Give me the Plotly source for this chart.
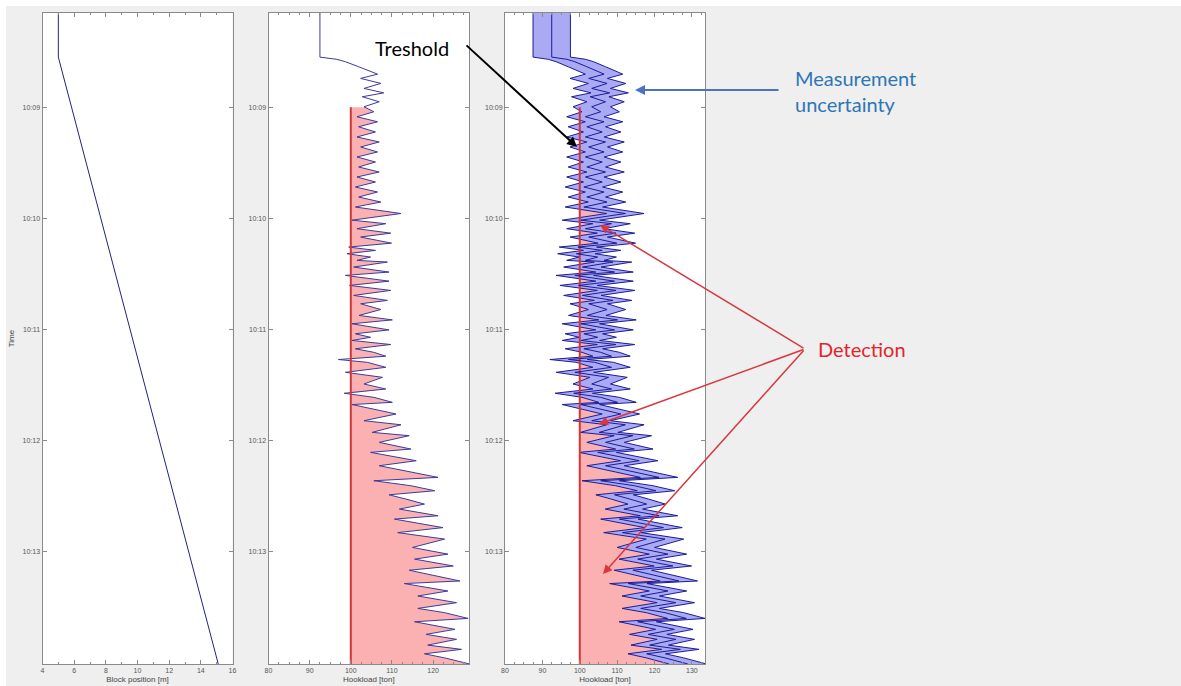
import numpy as np
import plotly.graph_objects as go

W, H = 1181, 686

# ---------------- data ----------------
# time in seconds after 10:08:00
TIME_S = [9.2, 33.0, 34.2, 35.5, 38.2, 42.2, 44.5, 47.2, 49.9, 52.3, 54.4, 57.1, 59.8,
          62.5, 65.2, 67.9, 70.6, 73.4, 76.1, 78.8, 81.5, 84.2, 86.9, 89.6, 92.3, 95.0,
          97.7, 100.4, 103.1, 105.8, 108.5, 111.2, 113.9, 117.4, 121.0, 122.9, 125.6,
          128.0, 130.1, 133.4, 135.5, 137.3, 139.1, 140.9, 142.7, 143.6, 146.3, 149.0,
          150.8, 153.9, 156.2, 158.9, 161.6, 164.3, 166.1, 169.2, 172.4, 174.8, 176.9,
          180.2, 182.3, 184.2, 185.9, 188.1, 190.4, 192.3, 194.4, 196.2, 197.7, 200.4,
          203.1, 205.8, 209.4, 212.1, 214.4, 216.6, 219.3, 220.5, 223.8, 225.6, 229.2,
          231.4, 235.5, 237.3, 240.9, 244.5, 246.3, 250.8, 253.5, 259.8, 261.6, 264.3,
          267.0, 269.2, 271.5, 274.2, 276.9, 280.5, 282.3, 286.9, 289.6, 293.1, 297.6,
          301.2, 303.9, 307.6, 309.9, 315.7, 317.1, 321.1, 323.8, 327.4, 330.5, 332.8,
          335.9, 337.7, 341.8, 344.5, 347.2, 350.3, 352.6, 355.0, 357.2, 360.5]
HOOKLOAD = [92.5, 92.5, 96.6, 98.7, 101.9, 106.5, 102.4, 107.3, 103.2, 108.0, 102.8, 106.9, 103.2,
            105.6, 101.5, 106.5, 101.9, 106.0, 101.5, 106.9, 102.4, 106.5, 101.5, 106.0, 101.9, 106.9,
            101.5, 106.0, 101.1, 106.5, 101.9, 107.3, 101.1, 112.2, 100.3, 108.5, 101.5,
            109.7, 102.4, 109.9, 99.5, 106.0, 99.1, 104.8, 101.5, 108.9, 100.7, 109.3,
            98.7, 109.3, 99.7, 109.7, 100.7, 108.9, 102.4, 107.3, 102.0, 110.1, 100.3,
            109.3, 101.1, 104.8, 100.3, 109.7, 101.1, 105.6, 108.5, 97.0, 104.0, 108.5,
            98.7, 107.7, 103.2, 108.5, 98.4, 105.6, 110.1, 100.3, 107.3, 111.0, 103.2,
            112.2, 105.2, 114.2, 106.9, 114.6, 104.8, 115.9, 106.9, 121.2, 105.6, 114.6,
            120.4, 109.3, 113.4, 117.9, 111.8, 121.2, 110.6, 122.4, 111.4, 122.8, 115.0,
            123.6, 115.5, 124.9, 114.2, 126.5, 113.0, 123.6, 116.3, 125.7, 116.3, 122.8,
            128.5, 115.5, 125.3, 118.3, 125.7, 118.7, 126.9, 117.9, 122.8, 128.9]
BLOCK_T = [9.2, 33.0, 360.5]
BLOCK_POS = [5.0, 5.0, 15.1]
THRESHOLD = 100.0
THRESH_START_S = 60.0
UNCERTAINTY = 5.0
YTICK_S = [60, 120, 180, 240, 300]
YTICK_TXT = ["10:09", "10:10", "10:11", "10:12", "10:13"]


def clip_above(t, v, base, t0):
    t = np.asarray(t, float)
    v = np.asarray(v, float)
    pts = [(t0, float(np.interp(t0, t, v)))] + [(a, b) for a, b in zip(t, v) if a > t0]
    res = []
    for i, (ti, vi) in enumerate(pts):
        if i > 0:
            tp, vp = pts[i - 1]
            if (vp - base) * (vi - base) < 0:
                tc = tp + (base - vp) * (ti - tp) / (vi - vp)
                res.append((tc, base))
        res.append((ti, max(vi, base)))
    return [p[0] for p in res], [p[1] for p in res]


hl = np.array(HOOKLOAD)
lower = hl - UNCERTAINTY
upper = hl + UNCERTAINTY
t_end = TIME_S[-1]

NAVY = "#23237e"
LINE_BLUE = "#3b3b9c"
BAND_LINE = "#1c1c96"
PINK = "#fbb1b1"
RED = "#d4353a"
BAND_FILL = "#a9a9f4"

fig = go.Figure()

# panel 1: block position
fig.add_trace(go.Scatter(x=BLOCK_POS, y=BLOCK_T, mode="lines",
                         line=dict(color=NAVY, width=1), xaxis="x", yaxis="y"))

# panel 2: hookload with detection
ct, cv = clip_above(TIME_S, HOOKLOAD, THRESHOLD, THRESH_START_S)
fig.add_trace(go.Scatter(x=[THRESHOLD, THRESHOLD], y=[THRESH_START_S, t_end], mode="lines",
                         line=dict(width=0, color=RED), xaxis="x2", yaxis="y2"))
fig.add_trace(go.Scatter(x=cv, y=ct, mode="lines", line=dict(width=0, color=PINK),
                         fill="tonextx", fillcolor=PINK, xaxis="x2", yaxis="y2"))
fig.add_trace(go.Scatter(x=HOOKLOAD, y=TIME_S, mode="lines",
                         line=dict(color=LINE_BLUE, width=1), xaxis="x2", yaxis="y2"))
fig.add_trace(go.Scatter(x=[THRESHOLD, THRESHOLD], y=[THRESH_START_S, t_end], mode="lines",
                         line=dict(width=2, color=RED), xaxis="x2", yaxis="y2"))

# panel 3: hookload with uncertainty band
lt, lv = clip_above(TIME_S, list(lower), THRESHOLD, THRESH_START_S)
fig.add_trace(go.Scatter(x=[THRESHOLD, THRESHOLD], y=[THRESH_START_S, t_end], mode="lines",
                         line=dict(width=0, color=RED), xaxis="x3", yaxis="y3"))
fig.add_trace(go.Scatter(x=lv, y=lt, mode="lines", line=dict(width=0, color=PINK),
                         fill="tonextx", fillcolor=PINK, xaxis="x3", yaxis="y3"))
fig.add_trace(go.Scatter(x=list(lower), y=TIME_S, mode="lines",
                         line=dict(color=BAND_LINE, width=1), xaxis="x3", yaxis="y3"))
fig.add_trace(go.Scatter(x=list(upper), y=TIME_S, mode="lines",
                         line=dict(color=BAND_LINE, width=1), fill="tonextx",
                         fillcolor=BAND_FILL, xaxis="x3", yaxis="y3"))
fig.add_trace(go.Scatter(x=[THRESHOLD, THRESHOLD], y=[THRESH_START_S, t_end], mode="lines",
                         line=dict(width=2, color=RED), xaxis="x3", yaxis="y3"))
fig.add_trace(go.Scatter(x=HOOKLOAD, y=TIME_S, mode="lines",
                         line=dict(color=BAND_LINE, width=1), xaxis="x3", yaxis="y3"))


def px(x):
    return x / W


def py(y):
    return 1 - y / H


tickfont = dict(family="Liberation Sans, Arial", size=7, color="#555555")
titlefont = dict(family="Liberation Sans, Arial", size=8, color="#444444")
frame = dict(showline=True, linecolor="#8a8a8a", linewidth=1, mirror="ticks", ticks="inside",
             ticklen=4, tickcolor="#8a8a8a", showgrid=False, zeroline=False,
             tickfont=tickfont, automargin=False)
ydom = [py(664), py(13)]

xaxes = {
    "xaxis": dict(domain=[px(42.5), px(232.5)], range=[4, 16], tickvals=[4, 6, 8, 10, 12, 14, 16],
                  minor=dict(dtick=1, ticks="inside", ticklen=2, tickcolor="#8a8a8a"),
                  title=dict(text="Block position [m]", font=titlefont, standoff=2), anchor="y"),
    "xaxis2": dict(domain=[px(268.5), px(469.3)], range=[80, 128.8], tickvals=[80, 90, 100, 110, 120],
                   minor=dict(dtick=2.5, ticks="inside", ticklen=2, tickcolor="#8a8a8a"),
                   title=dict(text="Hookload [ton]", font=titlefont, standoff=2), anchor="y2"),
    "xaxis3": dict(domain=[px(505), px(705)], range=[80, 133.5], tickvals=[80, 90, 100, 110, 120, 130],
                   minor=dict(dtick=2.5, ticks="inside", ticklen=2, tickcolor="#8a8a8a"),
                   title=dict(text="Hookload [ton]", font=titlefont, standoff=2), anchor="y3"),
}
layout = dict(width=W, height=H, margin=dict(l=0, r=0, t=0, b=0), showlegend=False,
              paper_bgcolor="#efefef", plot_bgcolor="white")
for k, v in xaxes.items():
    d = dict(frame)
    d.update(v)
    layout[k] = d
for i, k in enumerate(["yaxis", "yaxis2", "yaxis3"]):
    d = dict(frame)
    d.update(dict(domain=ydom, range=[t_end, 9.2], tickvals=YTICK_S, ticktext=YTICK_TXT,
                  anchor=["x", "x2", "x3"][i]))
    if i == 0:
        d["title"] = dict(text="Time", font=titlefont, standoff=6)
    layout[k] = d

fig.update_layout(**layout)

ann_font = "Lato, Open Sans, sans-serif"
annotations = [
    dict(x=px(412), y=py(48), xref="paper", yref="paper", text="Treshold", showarrow=False,
         font=dict(family=ann_font, size=20, color="black"), xanchor="center", yanchor="middle"),
    dict(x=px(577), y=py(147), xref="paper", yref="paper", text="", showarrow=True,
         ax=-112, ay=-103, axref="pixel", ayref="pixel", arrowhead=2, arrowsize=1,
         arrowwidth=2, arrowcolor="black"),
    dict(x=px(793), y=py(90.5), xref="paper", yref="paper", text="Measurement<br>uncertainty",
         showarrow=False, align="left", xanchor="left", yanchor="middle",
         font=dict(family=ann_font, size=20, color="#2e75b6")),
    dict(x=px(635), y=py(90), xref="paper", yref="paper", text="", showarrow=True,
         ax=145, ay=0, arrowhead=2, arrowsize=1, arrowwidth=2, arrowcolor="#4a72c0"),
    dict(x=px(816), y=py(349), xref="paper", yref="paper", text="Detection", showarrow=False,
         xanchor="left", yanchor="middle", font=dict(family=ann_font, size=20, color="#e3242b")),
]
for hx, hy in [(600, 225), (599, 424), (603, 574)]:
    annotations.append(dict(x=px(hx), y=py(hy), xref="paper", yref="paper", text="",
                            showarrow=True, ax=805 - hx, ay=349 - hy, arrowhead=2, arrowsize=1.2,
                            arrowwidth=1.5, arrowcolor="#d9363e"))
fig.update_layout(annotations=annotations)

# thin white border at left/top like the source image
fig.update_layout(shapes=[
    dict(type="rect", xref="paper", yref="paper", x0=0, x1=px(6), y0=0, y1=1,
         fillcolor="white", line=dict(width=0), layer="above"),
    dict(type="rect", xref="paper", yref="paper", x0=0, x1=1, y0=py(6), y1=1,
         fillcolor="white", line=dict(width=0), layer="above"),
])

fig.write_html("out.html")
